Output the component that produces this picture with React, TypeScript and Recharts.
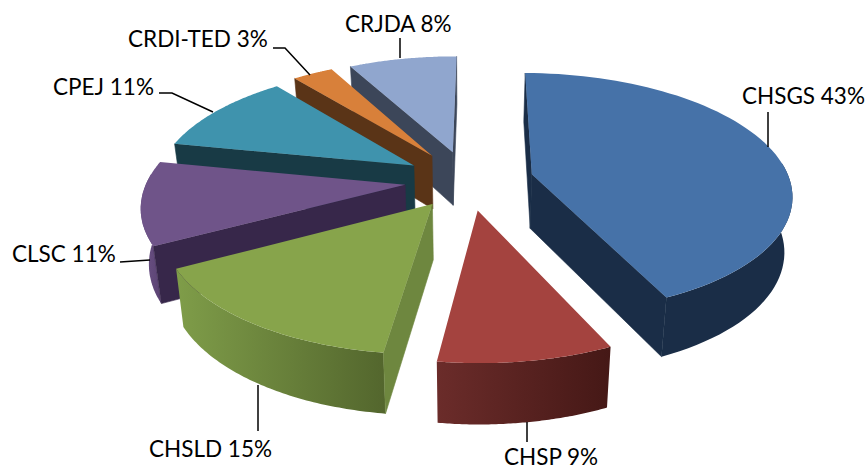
import { Pie, PieChart } from "recharts";

// Listed counter-clockwise from 12 o'clock so the back slices paint first
const names = ["CRJDA", "CRDI-TED", "CPEJ", "CLSC", "CHSLD", "CHSP", "CHSGS"];
const shares = [8, 3, 11, 11, 15, 9, 43];

const data = names.map((name, i) => ({ name, value: shares[i] }));

const explode = [0.255, 0.26, 0.25, 0.245, 0.235, 0.245, 0.255];

const topColors = ["#90a6ce", "#d8803a", "#3f93ad", "#6f5489", "#87a44b", "#a4433f", "#4672a8"];
const sideColors = ["#3c4659", "#5a3417", "#183a45", "#37274a", "#6e873f", "#6a2a28", "#1a2d47"];
const wallStops = [
  ["#3c4659", "#3c4659"],
  ["#5a3417", "#5a3417"],
  ["#183a45", "#183a45"],
  ["#6e5488", "#5a4272"],
  ["#7f9d49", "#53662d"],
  ["#6b2c2a", "#451816"],
  ["#1a2d47", "#1a2d47"],
];

// text start, baseline, then the leader from the slice out to the label
const labelSpots = [
  { x: 345, y: 32, leader: "M400 58 L400 38" },
  { x: 128, y: 47, leader: "M310 75 L285 48 L273 48" },
  { x: 53, y: 95, leader: "M213 112 L172 93 L159 93" },
  { x: 12, y: 262, leader: "M150 260 L120 262" },
  { x: 149, y: 457, leader: "M258 385 L258 431" },
  { x: 504, y: 465, leader: "M527 422 L527 442" },
  { x: 742, y: 104, leader: "M768 147 L768 112" },
];

const WIDTH = 866;
const HEIGHT = 467;
const SQUASH = 118.7 / 258; // tilt of the pie plane
const PERSPECTIVE = 0.155;
const DEPTH = 54.5;
const DEPTH_SLOPE = 5.5;
const TAPER = 0.025; // walls lean inward as they go down

type SliceProps = {
  cx: number;
  cy: number;
  outerRadius: number;
  startAngle: number;
  endAngle: number;
  midAngle: number;
  index: number;
};

const rad = (deg: number) => (deg * Math.PI) / 180;

function Slice3D({ cx, cy, outerRadius, startAngle, endAngle, midAngle, index }: SliceProps) {
  const ox = explode[index] * Math.cos(rad(midAngle));
  const oy = explode[index] * Math.sin(rad(midAngle));

  // plane coordinates (unit pie radius) to screen; z is 0 on top, 1 on the base
  const project = (px: number, py: number, z: number) => {
    const s = 1 / (1 + PERSPECTIVE * py);
    return [
      cx + outerRadius * px * s * (1 - TAPER * z),
      cy - outerRadius * SQUASH * py * s + z * (DEPTH - DEPTH_SLOPE * py),
    ];
  };
  const apex = (z: number) => project(ox, oy, z);
  const rim = (deg: number, z: number) => project(ox + Math.cos(rad(deg)), oy + Math.sin(rad(deg)), z);

  const steps = 72;
  const angles = Array.from({ length: steps + 1 }, (_, i) => startAngle + ((endAngle - startAngle) * i) / steps);
  const toPath = (pts: number[][]) => `M${pts.map((p) => `${p[0].toFixed(1)} ${p[1].toFixed(1)}`).join("L")}Z`;

  const topPts = [apex(0), ...angles.map((a) => rim(a, 0))];

  // the outer wall only shows along the front of the rim
  const frontAngles = angles.filter((a) => Math.sin(rad(a)) < 0.1);
  const wallPts = [...frontAngles.map((a) => rim(a, 0)), ...[...frontAngles].reverse().map((a) => rim(a, 1))];
  const xs = wallPts.map((p) => p[0]);

  // only the cut faces turned toward the viewer get painted
  const face = (deg: number) => [apex(0), rim(deg, 0), rim(deg, 1), apex(1)];
  const area = (q: number[][]) =>
    q.reduce((sum, p, i) => {
      const n = q[(i + 1) % q.length];
      return sum + p[0] * n[1] - n[0] * p[1];
    }, 0);
  const startFace = face(startAngle);
  const endFace = face(endAngle);

  const gradId = `wall-${index}`;
  const side = sideColors[index];
  return (
    <g>
      {wallPts.length > 2 && (
        <>
          <defs>
            <linearGradient id={gradId} gradientUnits="userSpaceOnUse" x1={Math.min(...xs)} x2={Math.max(...xs)} y1={0} y2={0}>
              <stop offset="0%" stopColor={wallStops[index][0]} />
              <stop offset="100%" stopColor={wallStops[index][1]} />
            </linearGradient>
          </defs>
          <path d={toPath(wallPts)} fill={`url(#${gradId})`} />
        </>
      )}
      {area(startFace) > 0 && <path d={toPath(startFace)} fill={side} stroke={side} strokeWidth={0.6} />}
      {area(endFace) < 0 && <path d={toPath(endFace)} fill={side} stroke={side} strokeWidth={0.6} />}
      <path d={toPath(topPts)} fill={topColors[index]} />
    </g>
  );
}

function SliceLabel({ index }: { index: number }) {
  const spot = labelSpots[index];
  return (
    <g>
      <path d={spot.leader} fill="none" stroke="#000" strokeWidth={1.5} />
      <text x={spot.x} y={spot.y} fontFamily="Lato" fontSize={22.5} fill="#000" stroke="none">
        {`${names[index]} ${shares[index]}%`}
      </text>
    </g>
  );
}

export default function App() {
  return (
    <div style={{ position: "fixed", left: 0, top: 0, width: WIDTH, height: HEIGHT, background: "#fff", overflow: "hidden" }}>
      <PieChart width={WIDTH} height={HEIGHT} margin={{ top: 0, right: 0, bottom: 0, left: 0 }}>
        <Pie
          data={data}
          dataKey="value"
          nameKey="name"
          cx={468}
          cy={180.5}
          innerRadius={0}
          outerRadius={258}
          startAngle={89.5}
          endAngle={449.5}
          stroke="none"
          isAnimationActive={false}
          shape={(props: any) => <Slice3D {...props} />}
          label={(props: any) => <SliceLabel index={props.index} />}
          labelLine={false}
        />
      </PieChart>
    </div>
  );
}
